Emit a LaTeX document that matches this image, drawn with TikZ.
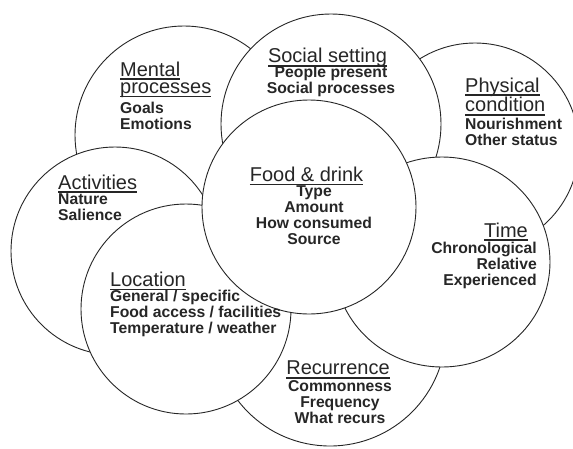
\documentclass[tikz,border=0pt]{standalone}
\usepackage{fontspec}
\setmainfont{Liberation Sans}
\usepackage{tikz}

\newsavebox\headbox
\newcommand{\hd}[1]{\sbox\headbox{#1}\rlap{\smash{\rule[-3.9pt]{\wd\headbox}{1.5pt}}}\usebox\headbox}

\begin{document}
\begin{tikzpicture}[x=1pt, y=-1pt,
		ring/.style={draw=black!85, line width=0.9pt, fill=white},
		headtext/.style={inner sep=0pt, text=black!85, font=\fontsize{20}{17.5}\selectfont},
		itemtext/.style={inner sep=0pt, text=black!85, font=\fontsize{15.7}{16}\selectfont\bfseries}]
			\clip (0,0) rectangle (573,448);
			\coordinate (M) at (184,135);
			\coordinate (P) at (475,147);
			\coordinate (S) at (331,124);
			\coordinate (A) at (115,251);
			\coordinate (R) at (330,330);
			\coordinate (L) at (186,309);
			\coordinate (T) at (442,262);
			\coordinate (F) at (309,207);
			\filldraw[ring] (M) circle (109pt);
			\filldraw[ring] (P) circle (104pt);
			\filldraw[ring] (S) circle (110pt);
			\filldraw[ring] (A) circle (104pt);
			\filldraw[ring] (R) circle (116pt);
			\filldraw[ring] (L) circle (105pt);
			\filldraw[ring] (T) ellipse (108pt and 105pt);
			\filldraw[ring] (F) circle (107pt);
			\node[headtext, anchor=north west, align=left] (Mh) at (120,61.4) {\hd{Mental}\\\hd{processes}};
			\node[itemtext, anchor=north west, align=left] (Ml) at (120,101.6) {Goals\\Emotions};
			\node[headtext, anchor=north] (Sh) at (327.5,48.3) {\hd{Social setting}};
			\node[itemtext, anchor=north, align=center] (Sl) at (331,65.6) {People present\\Social processes};
			\node[headtext, anchor=north west, align=left, font=\fontsize{20}{18}\selectfont] (Ph) at (465,77.4) {\hd{Physical}\\\hd{condition}};
			\node[itemtext, anchor=north west, align=left] (Pl) at (465,117.6) {Nourishment\\Other status};
			\node[headtext, anchor=north west] (Ah) at (58,174.4) {\hd{Activities}};
			\node[itemtext, anchor=north west, align=left] (Al) at (58,193.6) {Nature\\Salience};
			\node[headtext, anchor=north] (Fh) at (306.5,166.9) {\hd{Food \& drink}};
			\node[itemtext, anchor=north, align=center] (Fl) at (314,185.9) {Type\\Amount\\How consumed\\Source};
			\node[headtext, anchor=north east] (Th) at (528,222.4) {\hd{Time}};
			\node[itemtext, anchor=north east, align=right] (Tl) at (537,242.4) {Chronological\\Relative\hspace{5pt}\\Experienced\hspace{2pt}};
			\node[headtext, anchor=north west] (Lh) at (110,271.7) {\hd{Location}};
			\node[itemtext, anchor=north west, align=left] (Ll) at (110,290.3) {General / specific\\Food access / facilities\\Temperature / weather};
			\node[headtext, anchor=north] (Rh) at (338,360.7) {\hd{Recurrence}};
			\node[itemtext, anchor=north, align=center] (Rl) at (340,380.2) {Commonness\\Frequency\\What recurs};
		\end{tikzpicture}
\end{document}
